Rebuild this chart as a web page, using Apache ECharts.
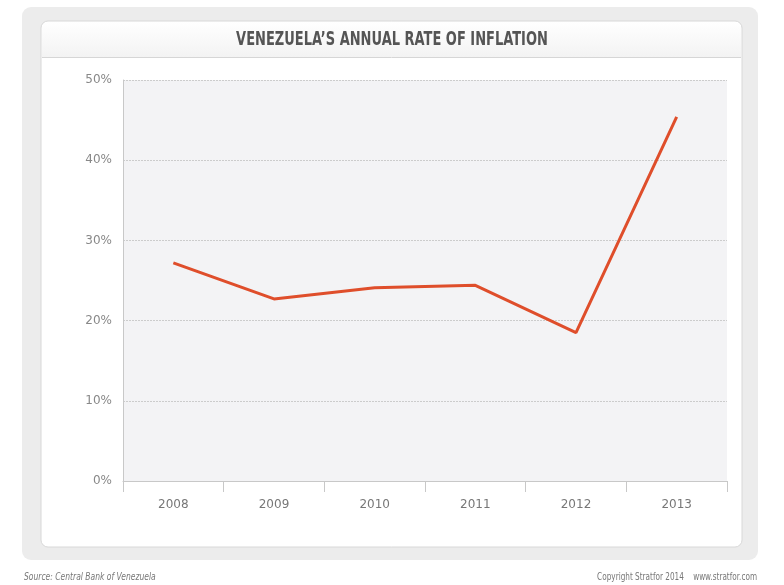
<!DOCTYPE html>
<html>
<head>
<meta charset="utf-8">
<script src="https://cdn.jsdelivr.net/npm/echarts@6/dist/echarts.min.js"></script>
<style>
  html, body { margin: 0; padding: 0; background: #fff; }
  #chart { width: 784px; height: 585px; }
</style>
</head>
<body>
<div id="chart"></div>
<script>
// data
var years = ['2008', '2009', '2010', '2011', '2012', '2013'];
var inflation = [27.2, 22.7, 24.1, 24.4, 18.5, 45.4];
var yTicks = [0, 10, 20, 30, 40, 50];

var myChart = echarts.init(document.getElementById('chart'));

var labelFont = '"DejaVu Sans", sans-serif';

var option = {
    animation: false,
    backgroundColor: '#fff',
    graphic: [
        // outer grey frame
        { type: 'rect', z: -10, shape: { x: 22, y: 7, width: 736, height: 553, r: 9 },
          style: { fill: '#ececec' } },
        // white card
        { type: 'rect', z: -9, shape: { x: 41, y: 21, width: 701, height: 526, r: 7 },
          style: { fill: '#ffffff', stroke: '#d8d8d8', lineWidth: 1 } },
        // title band
        { type: 'rect', z: -8, shape: { x: 42, y: 22, width: 699, height: 35, r: [6, 6, 0, 0] },
          style: { fill: new echarts.graphic.LinearGradient(0, 0, 0, 1, [
              { offset: 0, color: '#ffffff' }, { offset: 1, color: '#f3f3f3' }]) } },
        { type: 'line', z: -7, shape: { x1: 42, y1: 57.5, x2: 741, y2: 57.5 },
          style: { stroke: '#d6d6d6', lineWidth: 1 } },
        // condensed look: squeeze the text horizontally
        { type: 'text', x: 392, y: 40, scaleX: 0.65, style: {
            text: 'VENEZUELA\u2019S ANNUAL RATE OF INFLATION',
            font: 'bold 20px "DejaVu Sans", sans-serif', fill: '#555555',
            align: 'center', verticalAlign: 'middle' } },
        { type: 'text', x: 24, y: 577, scaleX: 0.76, style: {
            text: 'Source: Central Bank of Venezuela',
            font: 'italic 10px "DejaVu Sans", sans-serif', fill: '#777777',
            align: 'left', verticalAlign: 'middle' } },
        { type: 'text', x: 757, y: 577, scaleX: 0.73, style: {
            text: 'Copyright Stratfor 2014    www.stratfor.com',
            font: '10px "DejaVu Sans", sans-serif', fill: '#777777',
            align: 'right', verticalAlign: 'middle' } }
    ],
    grid: {
        left: 123,
        right: 57,
        top: 80,
        bottom: 104,
        show: true,
        backgroundColor: '#f3f3f5',
        borderWidth: 0
    },
    xAxis: {
        type: 'category',
        data: years,
        boundaryGap: true,
        axisLine: { show: true, lineStyle: { color: '#c8c8c8', width: 1 } },
        axisTick: { show: true, length: 11, alignWithLabel: false, lineStyle: { color: '#c8c8c8' } },
        axisLabel: { color: '#777777', fontFamily: labelFont, fontSize: 12, margin: 18 },
        splitLine: { show: false }
    },
    yAxis: {
        type: 'value',
        min: yTicks[0],
        max: yTicks[yTicks.length - 1],
        interval: 10,
        axisLine: { show: true, lineStyle: { color: '#c8c8c8', width: 1 } },
        axisTick: { show: false },
        axisLabel: { color: '#888888', fontFamily: labelFont, fontSize: 12, margin: 11,
                     formatter: '{value}%' },
        splitLine: { show: true, lineStyle: { color: '#cccccc', type: [2, 1], width: 1 } }
    },
    series: [
        {
            name: 'Inflation',
            type: 'line',
            data: inflation,
            symbol: 'none',
            lineStyle: { color: '#df4e2b', width: 3 },
            z: 5
        }
    ]
};
myChart.setOption(option);

// y axis line also runs down past 0%, like the tick marks
var zero = myChart.convertToPixel({ yAxisIndex: 0 }, 0);
myChart.setOption({
    graphic: option.graphic.concat([
        { type: 'line', shape: { x1: 123.5, y1: zero, x2: 123.5, y2: zero + 11 },
          style: { stroke: '#c8c8c8', lineWidth: 1 } }
    ])
});
</script>
</body>
</html>
